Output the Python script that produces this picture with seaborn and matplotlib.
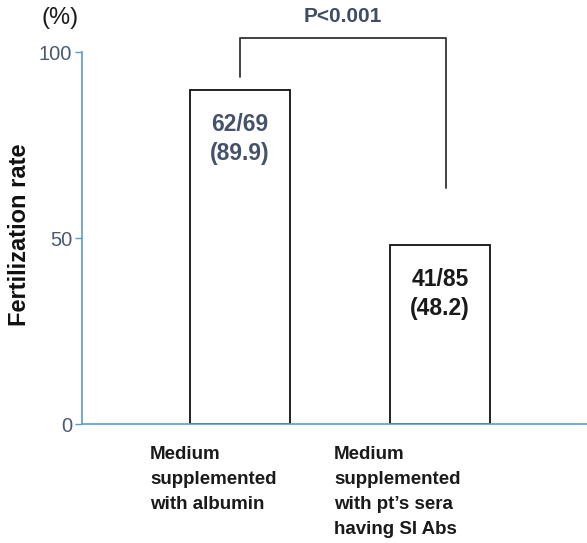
import matplotlib
matplotlib.use("Agg")
import matplotlib.pyplot as plt
import matplotlib.transforms as mtransforms
import pandas as pd
import seaborn as sns

# %%
groups = ["albumin", "sera"]
group_labels = [
    "Medium\nsupplemented\nwith albumin",
    "Medium\nsupplemented\nwith pt\u2019s sera\nhaving SI Abs",
]
fert_rate = [89.9, 48.2]
bar_text = ["62/69\n(89.9)", "41/85\n(48.2)"]
bar_text_colors = ["#44536b", "#1a1a1a"]
p_text = "P<0.001"

df = pd.DataFrame({"group": groups, "rate": fert_rate})

sns.set_style("white")
plt.rcParams["font.family"] = ["Liberation Sans", "DejaVu Sans"]

spine_col = "#5b9bd5"
tick_col = "#4b5a72"

fig = plt.figure(figsize=(5.87, 5.43), dpi=100)
ax = fig.add_axes([82 / 587, 1 - 424 / 543, 1 - 82 / 587, (424 - 52) / 543])

sns.barplot(data=df, x="group", y="rate", ax=ax, color="white",
            edgecolor="#111111", linewidth=1.3, width=0.5, saturation=1)

ax.set_xlim(-0.79, 1.735)
ax.set_ylim(0, 100)
ax.set_yticks([0, 50, 100])
ax.tick_params(axis="y", direction="out", length=5, width=1, color=spine_col,
               labelcolor=tick_col, labelsize=14.5, pad=2, left=True)
ax.tick_params(axis="x", bottom=False, labelbottom=False)
for s in ["top", "right"]:
    ax.spines[s].set_visible(False)
for s in ["left", "bottom"]:
    ax.spines[s].set_color(spine_col)
    ax.spines[s].set_linewidth(1.2)

ax.set_xlabel("")
ax.set_ylabel("Fertilization rate", fontsize=17, fontweight="bold",
              color="#111111")
ax.yaxis.set_label_coords(-0.1, 0.51)

# category labels under the bars, left aligned
offsets = [-90, -106]
for i, (lab, off) in enumerate(zip(group_labels, offsets)):
    tr = ax.get_xaxis_transform() + mtransforms.ScaledTranslation(off / 100, -22 / 100, fig.dpi_scale_trans)
    ax.text(i, 0, lab, transform=tr, ha="left", va="top", fontsize=13.5,
            fontweight="bold", color="#1a1a1a", linespacing=1.62)

# text inside bars
for i, (t, c, v) in enumerate(zip(bar_text, bar_text_colors, fert_rate)):
    ax.text(i, v - 6.2, t, ha="center", va="top", fontsize=16.5,
            fontweight="bold", color=c, linespacing=1.35)

# significance bracket
ax.plot([0, 0, 1.03, 1.03], [93.3, 103.8, 103.8, 63.5], color="#333333",
        lw=1.3, clip_on=False)
ax.text(0.515, 109.6, p_text, ha="center", va="center", fontsize=15,
        fontweight="bold", color="#3f4d66", clip_on=False)

fig.text(60 / 587, 1 - 18 / 543, "(%)", ha="center", va="center",
         fontsize=17, color="#1a1a1a")

fig.savefig("out.png", dpi=100)
